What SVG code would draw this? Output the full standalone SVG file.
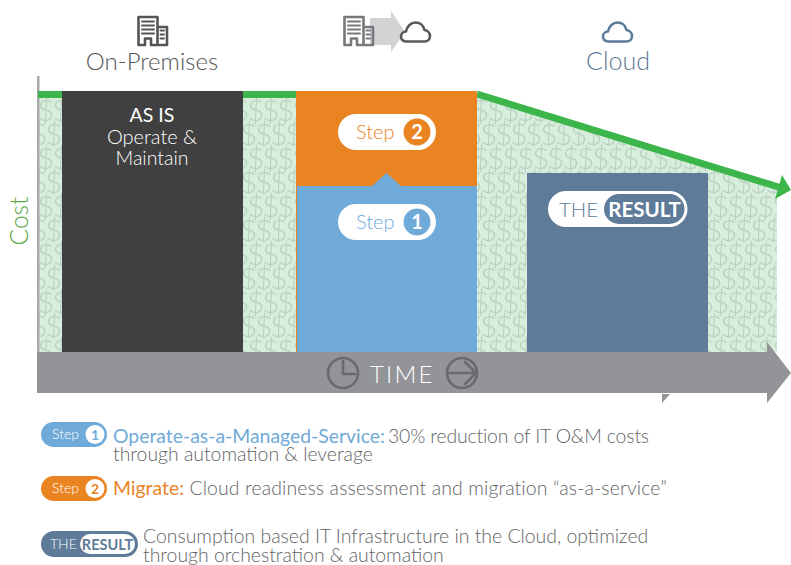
<svg xmlns="http://www.w3.org/2000/svg" width="791" height="565" viewBox="0 0 791 565">
<style>
text{font-family:"Lato","Noto Sans","Liberation Sans",sans-serif;font-weight:300}
.m{text-anchor:middle}
.g{fill:#636466;font-size:19.400px}
.w{fill:#fff}
.d{font-size:30px;fill:#b8d1c0}
.ic{fill:none;stroke-width:2.600;stroke-linejoin:round;stroke-linecap:round}
</style>
<defs>
<pattern id="dollars" patternUnits="userSpaceOnUse" x="38" y="98" width="30" height="48">
<rect width="30" height="48" fill="#d8eedd"/>
<text x="-1" y="23" class="d">$</text>
<text x="14" y="23" class="d">$</text>
<text x="29" y="23" class="d">$</text>
<text x="-8" y="47" class="d">$</text>
<text x="7" y="47" class="d">$</text>
<text x="22" y="47" class="d">$</text>
<text x="-1" y="71" class="d">$</text>
<text x="14" y="71" class="d">$</text>
<text x="29" y="71" class="d">$</text>
</pattern>
<g id="bld">
<path d="M1.500 29.500V1.500H20.500V29.500H14V23H8V29.500ZM20.500 11.500H30V29.500H20.500"/>
<path d="M5 6H17M5 10H17M5 14H17M5 18H17M23.500 15H27M23.500 19H27M23.500 23H27" stroke-width="2"/>
</g>
<path id="cld" d="M6 20.500C2.500 20.500 1 18 1 15.500C1 12.500 3.500 10.500 6 10.500C7 5 11 1.500 15.500 1.500C20 1.500 23.500 4.500 24.500 9C27.500 9.500 30 12 30 15C30 18.500 27.500 20.500 24.500 20.500Z"/>
</defs>

<g id="cost-area">
<polygon points="38,98 477,98 477,96 777,190 777,352 38,352" fill="url(#dollars)"/>
</g>

<g id="connectors">
<rect x="37" y="76" width="2.500" height="276" fill="#a7a9ac"/>
<rect x="38" y="91" width="258" height="7" fill="#3cb54a"/>
<line x1="477" y1="94" x2="780" y2="187.500" stroke="#3cb54a" stroke-width="7"/>
<polygon points="791,190 782,175 775,199" fill="#3cb54a"/>
</g>

<g id="time-axis">
<polygon points="37,352 767,352 767,342 791,373 767,403 767,393 37,393" fill="#929497"/>
<polygon points="662,394 670,394 662,403" fill="#929497"/>
<g class="ic" stroke="#6a6a6c">
<circle cx="343" cy="373" r="15"/>
<path d="M343 361V374H355"/>
<circle cx="462" cy="373" r="15"/>
<path d="M447 373H476M465 362L476 373L465 384"/>
</g>
<text x="370" y="383" class="w" font-size="24" letter-spacing="2.200">TIME</text>
</g>

<g id="on-premises-header">
<use href="#bld" x="137" y="15.500" class="ic" stroke="#555"/>
<text x="152" y="70" class="m" font-size="24" fill="#555">On-Premises</text>
</g>
<g id="migration-header">
<polygon points="370,18 391,18 391,11 405,32 391,52 391,45 370,45" fill="#d1d3d4"/>
<use href="#bld" x="343" y="15.500" class="ic" stroke="#77787b"/>
<use href="#cld" x="400" y="21" class="ic" stroke="#58595b"/>
</g>
<g id="cloud-header">
<use href="#cld" x="602" y="21" class="ic" stroke="#5e7b99"/>
<text x="618" y="70" class="m" font-size="25" fill="#5e7b99">Cloud</text>
</g>

<text x="28" y="221" class="m" font-size="24.500" fill="#5aa846" transform="rotate(-90 28 221)">Cost</text>

<g id="as-is">
<rect x="62" y="91" width="181" height="261" fill="#404040"/>
<text x="152" y="122" class="m w" font-size="19.500" style="font-weight:400">AS IS</text>
<text x="152" y="144" class="m w" font-size="20">Operate &amp;</text>
<text x="152" y="165" class="m w" font-size="19.500">Maintain</text>
</g>

<g id="step-2">
<rect x="296" y="91" width="181" height="95" fill="#ea8423"/>
<rect x="338" y="114" width="98" height="36" rx="18" fill="#fff"/>
<circle cx="417" cy="132" r="13.500" fill="#ea8423"/>
<text x="356" y="139" font-size="20" fill="#ea8423">Step</text>
<text x="417" y="139" class="m w" font-size="20" style="font-weight:700">2</text>
</g>

<g id="step-1">
<rect x="296" y="186" width="1" height="166" fill="#ea8423"/>
<polygon points="297,186 372,186 386.500,173 401,186 477,186 477,352 297,352" fill="#6faad9"/>
<rect x="338" y="204" width="98" height="36" rx="18" fill="#fff"/>
<circle cx="417" cy="222" r="13.500" fill="#6faad9"/>
<text x="356" y="229" font-size="20" fill="#6faad9">Step</text>
<text x="417" y="229" class="m w" font-size="20" style="font-weight:700">1</text>
</g>

<g id="the-result">
<rect x="527" y="173" width="181" height="179" fill="#5e7b99"/>
<rect x="548" y="191" width="139.500" height="36" rx="18" fill="#fff"/>
<rect x="604" y="194" width="80.500" height="30" rx="15" fill="#5e7b99"/>
<text x="559" y="217" font-size="20.500" fill="#5e7b99">THE</text>
<text x="644.500" y="217" class="m w" font-size="20.500" style="font-weight:700">RESULT</text>
</g>

<g id="legend-step-1">
<rect x="41" y="422" width="66" height="25" rx="12.500" fill="#6faad9"/>
<circle cx="95" cy="434.500" r="9.500" fill="#fff"/>
<text x="52" y="439" class="w" font-size="14">Step</text>
<text x="95" y="439.500" class="m" font-size="14" fill="#6faad9" style="font-weight:700">1</text>
<text x="113" y="443" class="g"><tspan fill="#6faad9" style="font-weight:400">Operate-as-a-Managed-Service:</tspan><tspan letter-spacing="-0.150" dx="-2"> 30% reduction of IT O&amp;M costs</tspan></text>
<text x="113" y="461" class="g">through automation &amp; leverage</text>
</g>
<g id="legend-step-2">
<rect x="41" y="476" width="66" height="25" rx="12.500" fill="#ea8423"/>
<circle cx="95" cy="488.500" r="9.500" fill="#fff"/>
<text x="52" y="493" class="w" font-size="14">Step</text>
<text x="95" y="493.500" class="m" font-size="14" fill="#ea8423" style="font-weight:700">2</text>
<text x="113" y="495" class="g"><tspan fill="#ea8423" style="font-weight:400">Migrate:</tspan><tspan letter-spacing="0.130"> Cloud readiness assessment and migration “as-a-service”</tspan></text>
</g>
<g id="legend-result">
<rect x="41" y="531" width="97" height="26" rx="13" fill="#5e7b99"/>
<rect x="80" y="534" width="55" height="20" rx="10" fill="#fff"/>
<text x="50" y="549" class="w" font-size="14">THE</text>
<text x="107.500" y="550" class="m" font-size="14.500" fill="#5e7b99" style="font-weight:700">RESULT</text>
<text x="143" y="543" class="g">Consumption based IT Infrastructure in the Cloud, optimized</text>
<text x="143" y="562" class="g">through orchestration &amp; automation</text>
</g>
</svg>
